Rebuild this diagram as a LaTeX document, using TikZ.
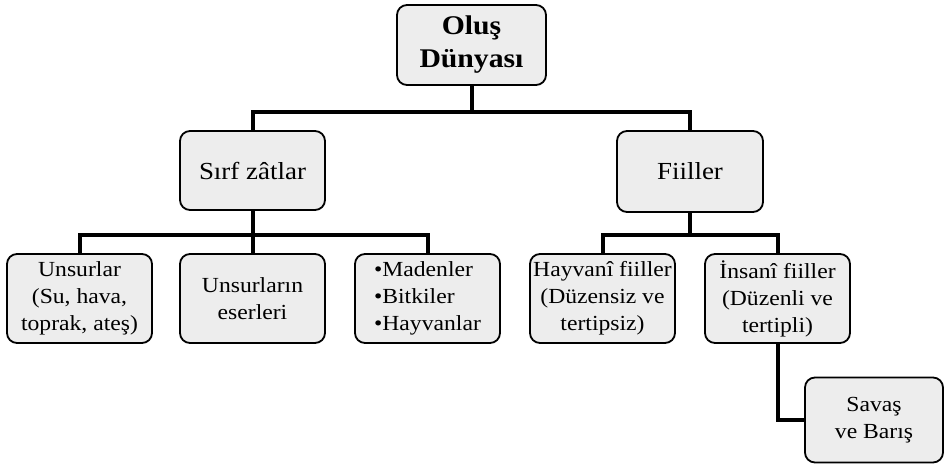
\documentclass[tikz,border=0pt]{standalone}
\usepackage{fontspec}
\setmainfont[FakeStretch=1.1]{Liberation Serif}
\begin{document}
\begin{tikzpicture}[x=1pt,y=-1pt,
  box/.style={draw=black, line width=1.8pt, rounded corners=10pt, fill=gray!14,
    align=center, inner sep=2pt, font=\fontsize{21.5}{27}\selectfont},
  conn/.style={line width=4pt, draw=black}]
\useasboundingbox (0,0) rectangle (944,463);
\node[box, minimum width=149pt, minimum height=80pt, font=\bfseries\fontsize{27}{33}\selectfont] (top) at (471.5,45) {Oluş\\Dünyası};
\node[box, minimum width=145pt, minimum height=79pt, font=\fontsize{24.5}{28}\selectfont] (sz) at (252.5,170.5) {Sırf zâtlar};
\node[box, minimum width=146pt, minimum height=81pt, font=\fontsize{24.5}{28}\selectfont] (fi) at (690,171.5) {Fiiller};
\node[box, minimum width=145pt, minimum height=89pt] (b1) at (79.5,298.5) {Unsurlar\\(Su, hava,\\toprak, ateş)};
\node[box, minimum width=145pt, minimum height=89pt] (b2) at (252.5,298.5) {Unsurların\\eserleri};
\node[box, minimum width=145pt, minimum height=89pt, align=left] (b3) at (427.5,298.5) {•Madenler\\•Bitkiler\\•Hayvanlar};
\node[box, minimum width=145pt, minimum height=89pt] (b4) at (602.5,298.5) {Hayvanî fiiller\\(Düzensiz ve\\tertipsiz)};
\node[box, minimum width=145pt, minimum height=89pt] (b5) at (777.5,298.5) {İnsanî fiiller\\(Düzenli ve\\tertipli)};
\node[box, minimum width=138pt, minimum height=85pt] (sv) at (874,420) {Savaş\\ve Barış};
\coordinate (j1) at (471.5,112);
\coordinate (j2) at (252.5,235);
\coordinate (j3) at (690,235);
\draw[conn] (top.south) -- (j1);
\draw[conn] (sz.north) |- (j1) -| (fi.north);
\draw[conn] (sz.south) -- (j2);
\draw[conn] (b1.north) |- (j2) -| (b3.north);
\draw[conn] (j2) -- (b2.north);
\draw[conn] (fi.south) -- (j3);
\draw[conn] (b4.north) |- (j3) -| (b5.north);
\draw[conn] (b5.south) |- (sv.west);
\end{tikzpicture}
\end{document}
